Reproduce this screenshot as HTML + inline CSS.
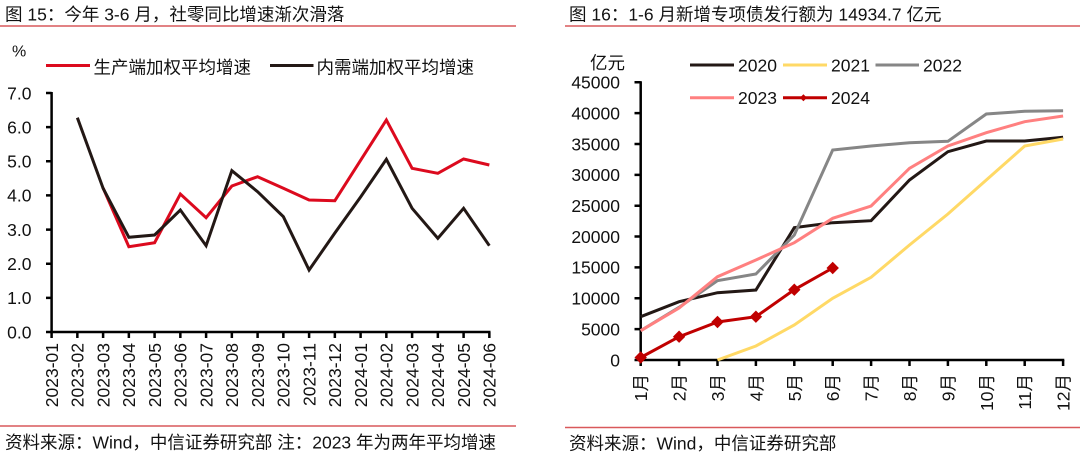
<!DOCTYPE html>
<html><head><meta charset="utf-8"><style>
html,body{margin:0;padding:0;background:#fff;}
svg{display:block;}
text{font-family:"Liberation Sans","Noto Sans CJK SC",sans-serif;fill:#111;}
</style></head><body>
<svg width="1080" height="461" viewBox="0 0 1080 461" xmlns="http://www.w3.org/2000/svg">
<!-- Titles -->
<text x="5" y="20.5" font-size="17.5">图 15：今年 3-6 月，社零同比增速渐次滑落</text>
<text x="569" y="20.5" font-size="17.5">图 16：1-6 月新增专项债发行额为 14934.7 亿元</text>
<line x1="0" y1="26" x2="516" y2="26" stroke="#d9595b" stroke-width="1.4"/>
<line x1="565" y1="26" x2="1080" y2="26" stroke="#d9595b" stroke-width="1.4"/>
<line x1="0" y1="426" x2="516" y2="426" stroke="#d9595b" stroke-width="1.4"/>
<line x1="565" y1="427.5" x2="1080" y2="427.5" stroke="#d9595b" stroke-width="1.4"/>
<text x="5" y="448.5" font-size="17.5">资料来源：Wind，中信证券研究部 注：2023 年为两年平均增速</text>
<text x="569" y="449.5" font-size="17.5">资料来源：Wind，中信证券研究部</text>

<!-- LEFT CHART -->
<text x="12" y="56.5" font-size="16">%</text>
<line x1="46" y1="65.5" x2="90" y2="65.5" stroke="#dc0a1e" stroke-width="3"/>
<text x="93.5" y="73.5" font-size="17.5">生产端加权平均增速</text>
<line x1="270" y1="65.5" x2="313.5" y2="65.5" stroke="#231815" stroke-width="3"/>
<text x="316.5" y="73.5" font-size="17.5">内需端加权平均增速</text>

<g font-size="17.5" text-anchor="end">
<text x="31.5" y="338.3">0.0</text>
<text x="31.5" y="304.2">1.0</text>
<text x="31.5" y="270">2.0</text>
<text x="31.5" y="235.9">3.0</text>
<text x="31.5" y="201.7">4.0</text>
<text x="31.5" y="167.6">5.0</text>
<text x="31.5" y="133.4">6.0</text>
<text x="31.5" y="99.3">7.0</text>
</g>
<g stroke="#000" stroke-width="2.5" fill="none">
<line x1="51.6" y1="92" x2="51.6" y2="333.2"/>
<line x1="50.4" y1="332" x2="490.5" y2="332"/>
<path d="M46 332H51.6M46 297.86H51.6M46 263.7H51.6M46 229.6H51.6M46 195.4H51.6M46 161.3H51.6M46 127.1H51.6M46 93H51.6"/>
<path d="M51.6 332V338M77.35 332V338M103.1 332V338M128.85 332V338M154.6 332V338M180.35 332V338M206.1 332V338M231.85 332V338M257.6 332V338M283.35 332V338M309.1 332V338M334.85 332V338M360.6 332V338M386.35 332V338M412.1 332V338M437.85 332V338M463.6 332V338M489.35 332V338"/>
</g>
<g font-size="17.5" text-anchor="end">
<text transform="translate(57.9,343) rotate(-90)">2023-01</text>
<text transform="translate(83.65,343) rotate(-90)">2023-02</text>
<text transform="translate(109.4,343) rotate(-90)">2023-03</text>
<text transform="translate(135.15,343) rotate(-90)">2023-04</text>
<text transform="translate(160.9,343) rotate(-90)">2023-05</text>
<text transform="translate(186.65,343) rotate(-90)">2023-06</text>
<text transform="translate(212.4,343) rotate(-90)">2023-07</text>
<text transform="translate(238.15,343) rotate(-90)">2023-08</text>
<text transform="translate(263.9,343) rotate(-90)">2023-09</text>
<text transform="translate(289.65,343) rotate(-90)">2023-10</text>
<text transform="translate(315.4,343) rotate(-90)">2023-11</text>
<text transform="translate(341.15,343) rotate(-90)">2023-12</text>
<text transform="translate(366.9,343) rotate(-90)">2024-01</text>
<text transform="translate(392.65,343) rotate(-90)">2024-02</text>
<text transform="translate(418.4,343) rotate(-90)">2024-03</text>
<text transform="translate(444.15,343) rotate(-90)">2024-04</text>
<text transform="translate(469.9,343) rotate(-90)">2024-05</text>
<text transform="translate(495.65,343) rotate(-90)">2024-06</text>
</g>
<polyline fill="none" stroke="#dc0a1e" stroke-width="3" stroke-linejoin="miter" points="103.1,188 128.85,246.7 154.6,242.7 180.35,194 206.1,217.7 231.85,186 257.6,176.7 283.35,188.3 309.1,200 334.85,200.7 360.6,160.3 386.35,120 412.1,168.3 437.85,173.3 463.6,159 489.35,165"/>
<polyline fill="none" stroke="#231815" stroke-width="3" stroke-linejoin="miter" points="77.35,117.7 103.1,188.3 128.85,237.3 154.6,235 180.35,210 206.1,245.7 231.85,170.7 257.6,191.7 283.35,216.7 309.1,270 334.85,233 360.6,197 386.35,159.3 412.1,208.3 437.85,238.3 463.6,208.3 489.35,245.7"/>

<!-- RIGHT CHART -->
<text x="590" y="69" font-size="17.5">亿元</text>
<line x1="690" y1="65" x2="734" y2="65" stroke="#231815" stroke-width="3"/>
<text x="738" y="71.3" font-size="17.5">2020</text>
<line x1="783" y1="65" x2="827" y2="65" stroke="#ffd966" stroke-width="3"/>
<text x="831" y="71.3" font-size="17.5">2021</text>
<line x1="875.5" y1="65" x2="919" y2="65" stroke="#868686" stroke-width="3"/>
<text x="923" y="71.3" font-size="17.5">2022</text>
<line x1="690" y1="97.7" x2="734" y2="97.7" stroke="#ff8080" stroke-width="3"/>
<text x="738" y="104" font-size="17.5">2023</text>
<line x1="783" y1="97.7" x2="827" y2="97.7" stroke="#c00000" stroke-width="3"/>
<path d="M803.4 94.2L806.9 97.7L803.4 101.2L799.9 97.7Z" fill="#c00000"/>
<text x="831" y="104" font-size="17.5">2024</text>

<g font-size="17.5" text-anchor="end">
<text x="620" y="366.3">0</text>
<text x="620" y="335.4">5000</text>
<text x="620" y="304.6">10000</text>
<text x="620" y="273.7">15000</text>
<text x="620" y="242.9">20000</text>
<text x="620" y="212">25000</text>
<text x="620" y="181.1">30000</text>
<text x="620" y="150.3">35000</text>
<text x="620" y="119.4">40000</text>
<text x="620" y="88.6">45000</text>
</g>
<g stroke="#000" stroke-width="2.5" fill="none">
<line x1="640.7" y1="81.3" x2="640.7" y2="361.2"/>
<line x1="639.5" y1="360" x2="1064.3" y2="360"/>
<path d="M634.5 360H640.7M634.5 329.14H640.7M634.5 298.28H640.7M634.5 267.42H640.7M634.5 236.56H640.7M634.5 205.7H640.7M634.5 174.84H640.7M634.5 143.98H640.7M634.5 113.12H640.7M634.5 82.26H640.7"/>
<path d="M640.7 360V366M679.1 360V366M717.5 360V366M755.9 360V366M794.3 360V366M832.7 360V366M871.1 360V366M909.5 360V366M947.9 360V366M986.3 360V366M1024.7 360V366M1063.1 360V366"/>
</g>
<g font-size="17.5" text-anchor="end">
<text transform="translate(647.2,374) rotate(-90)">1月</text>
<text transform="translate(685.6,374) rotate(-90)">2月</text>
<text transform="translate(724,374) rotate(-90)">3月</text>
<text transform="translate(762.4,374) rotate(-90)">4月</text>
<text transform="translate(800.8,374) rotate(-90)">5月</text>
<text transform="translate(839.2,374) rotate(-90)">6月</text>
<text transform="translate(877.6,374) rotate(-90)">7月</text>
<text transform="translate(916,374) rotate(-90)">8月</text>
<text transform="translate(954.4,374) rotate(-90)">9月</text>
<text transform="translate(992.8,374) rotate(-90)">10月</text>
<text transform="translate(1031.2,374) rotate(-90)">11月</text>
<text transform="translate(1069.6,374) rotate(-90)">12月</text>
</g>
<polyline fill="none" stroke="#231815" stroke-width="3" points="640.7,316.7 679.1,301.7 717.5,292.7 755.9,290 794.3,227.7 832.7,222.7 871.1,220.7 909.5,180 947.9,151.7 986.3,141 1024.7,141 1063.1,137.3"/>
<polyline fill="none" stroke="#ffd966" stroke-width="3" points="717.5,360 755.9,346 794.3,325 832.7,298.3 871.1,277.3 909.5,245 947.9,214 986.3,180 1024.7,146 1063.1,139"/>
<polyline fill="none" stroke="#868686" stroke-width="3" points="640.7,330.7 679.1,307.3 717.5,280.7 755.9,274 794.3,235 832.7,150 871.1,146 909.5,142.7 947.9,141.3 986.3,114 1024.7,111.3 1063.1,110.7"/>
<polyline fill="none" stroke="#ff8080" stroke-width="3" points="640.7,330.7 679.1,308 717.5,276.7 755.9,260 794.3,242.7 832.7,218.3 871.1,206 909.5,168.3 947.9,146 986.3,132.7 1024.7,121.7 1063.1,116"/>
<polyline fill="none" stroke="#c00000" stroke-width="3" points="640.7,357.5 679.1,336.7 717.5,322 755.9,316.7 794.3,289.7 832.7,268"/>
<g fill="#c00000">
<path d="M640.7 351.3L646.9 357.5L640.7 363.7L634.5 357.5Z"/>
<path d="M679.1 330.5L685.3 336.7L679.1 342.9L672.9 336.7Z"/>
<path d="M717.5 315.8L723.7 322L717.5 328.2L711.3 322Z"/>
<path d="M755.9 310.5L762.1 316.7L755.9 322.9L749.7 316.7Z"/>
<path d="M794.3 283.5L800.5 289.7L794.3 295.9L788.1 289.7Z"/>
<path d="M832.7 261.8L838.9 268L832.7 274.2L826.5 268Z"/>
</g>
</svg>
</body></html>
